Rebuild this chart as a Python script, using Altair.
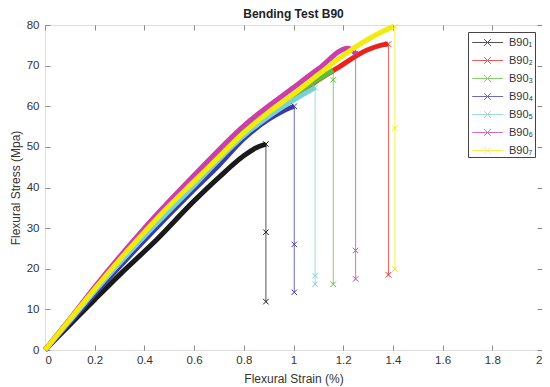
import altair as alt
import pandas as pd

# ---- data ----
series_names = ["B90₁", "B90₂", "B90₃", "B90₄", "B90₅", "B90₆", "B90₇"]
series_colors = ["#1a1a1a", "#e8231f", "#5cbf3c", "#3a3aa8", "#78d2d2", "#cc3fa8", "#f2ea10"]

strain_1 = [0, 0.1, 0.2, 0.3, 0.45, 0.6, 0.7, 0.8, 0.85, 0.889]
stress_1 = [0, 6.2, 12.4, 18.5, 27.2, 36.7, 42.5, 47.8, 49.8, 50.7]
strain_2 = [0, 0.1, 0.2, 0.4, 0.6, 0.8, 1.0, 1.1, 1.174, 1.294, 1.35, 1.38]
stress_2 = [0, 7.2, 14.5, 28.5, 41.0, 52.8, 62.0, 66.5, 69.3, 73.8, 75.0, 75.3]
strain_3 = [0, 0.1, 0.2, 0.4, 0.6, 0.8, 1.0, 1.1, 1.16]
stress_3 = [0, 7.6, 15.3, 29.5, 42.0, 53.8, 62.8, 66.6, 68.9]
strain_4 = [0, 0.1, 0.2, 0.4, 0.6, 0.7, 0.8, 0.9, 0.95, 1.003]
stress_4 = [0, 6.8, 13.8, 27.0, 39.5, 45.5, 52.0, 56.8, 58.6, 60.0]
strain_5 = [0, 0.1, 0.2, 0.4, 0.6, 0.8, 0.9, 1.0, 1.087]
stress_5 = [0, 7.2, 14.5, 28.0, 40.5, 52.8, 57.5, 61.5, 64.6]
strain_6 = [0, 0.1, 0.2, 0.4, 0.6, 0.8, 1.0, 1.1, 1.22, 1.25]
stress_6 = [0, 7.6, 15.5, 30.0, 43.0, 55.2, 64.6, 69.2, 74.3, 73.0]
strain_7 = [0, 0.1, 0.2, 0.3, 0.4, 0.5, 0.6, 0.7, 0.8, 0.9, 1.0, 1.1, 1.2, 1.3, 1.4]
stress_7 = [0, 7.5, 15.0, 22.2, 29.0, 35.5, 41.5, 47.5, 53.5, 58.5, 63.0, 67.8, 72.5, 76.5, 79.6]

# fracture drops: strain of the vertical drop, top and bottom stress, and marker stresses
drop_strain = [0.889, 1.382, 1.16, 1.003, 1.087, 1.25, 1.408]
drop_top = [50.7, 75.3, 68.9, 60.0, 64.6, 73.0, 79.6]
drop_bottom = [11.9, 18.5, 16.2, 14.2, 16.2, 17.5, 19.9]
drop_markers = [[50.7, 29.0, 11.9], [75.3, 18.5], [66.5, 16.2], [60.0, 26.0, 14.2],
                [64.6, 18.3, 16.2], [73.0, 24.5, 17.5], [79.6, 54.6, 19.9]]

x_ticks = [0, 0.2, 0.4, 0.6, 0.8, 1, 1.2, 1.4, 1.6, 1.8, 2]
y_ticks = [0, 10, 20, 30, 40, 50, 60, 70, 80]

strains = [strain_1, strain_2, strain_3, strain_4, strain_5, strain_6, strain_7]
stresses = [stress_1, stress_2, stress_3, stress_4, stress_5, stress_6, stress_7]

curve_rows, drop_rows, marker_rows = [], [], []
for i, name in enumerate(series_names):
    for sx, sy in zip(strains[i], stresses[i]):
        curve_rows.append({"series": name, "strain": sx, "stress": sy})
    drop_rows.append({"series": name, "strain": drop_strain[i], "stress": drop_top[i], "k": 0})
    drop_rows.append({"series": name, "strain": drop_strain[i], "stress": drop_bottom[i], "k": 1})
    for m in drop_markers[i]:
        marker_rows.append({"series": name, "strain": drop_strain[i], "stress": m})

curves = pd.DataFrame(curve_rows)
drops = pd.DataFrame(drop_rows)
markers = pd.DataFrame(marker_rows)

FONT = "Liberation Sans"
AX_COL = "#8a8a8a"
LAB_COL = "#333333"

xscale = alt.Scale(domain=[0, 2], nice=False, zero=False)
yscale = alt.Scale(domain=[0, 80], nice=False, zero=False)
cscale = alt.Scale(domain=series_names, range=series_colors)

x_main = alt.Axis(values=x_ticks, format="~g", ticks=False, tickSize=0, domain=False, grid=False,
                  labelPadding=4, labelFontSize=11.5, labelColor=LAB_COL, labelFont=FONT,
                  title="Flexural Strain (%)", titleFontSize=12, titleFontWeight="normal",
                  titleColor=LAB_COL, titleFont=FONT, titlePadding=8, orient="bottom")
y_main = alt.Axis(values=y_ticks, ticks=False, tickSize=0, domain=False, grid=False,
                  labelPadding=6, labelFontSize=11.5, labelColor=LAB_COL, labelFont=FONT,
                  title="Flexural Stress (Mpa)", titleFontSize=12, titleFontWeight="normal",
                  titleColor=LAB_COL, titleFont=FONT, titlePadding=4, orient="left")


def tick_axis(vals, orient):
    return alt.Axis(values=vals, ticks=True, tickSize=5, tickColor=AX_COL, tickWidth=1,
                    labels=False, domain=False, grid=False, title=None, offset=-5, orient=orient)


sym_path = "M-0.7,0H2.74M0.62,-0.38L1.38,0.38M0.62,0.38L1.38,-0.38"
legend = alt.Legend(title=None, orient="none", legendX=423, legendY=7,
                    symbolType=sym_path, symbolSize=324, symbolStrokeWidth=1,
                    labelFontSize=11, labelFont=FONT, labelColor=LAB_COL, labelOffset=21,
                    rowPadding=3, padding=1, strokeColor="#444444", fillColor="white",
                    cornerRadius=0)

drop_layer = alt.Chart(drops).mark_line(strokeWidth=1, opacity=0.75).encode(
    x=alt.X("strain:Q", scale=xscale, axis=x_main),
    y=alt.Y("stress:Q", scale=yscale, axis=y_main),
    color=alt.Color("series:N", scale=cscale, legend=legend),
    order="k:Q",
)

curve_layer = alt.Chart(curves).mark_line(strokeWidth=5, interpolate="monotone").encode(
    x=alt.X("strain:Q", scale=xscale, axis=tick_axis(x_ticks, "bottom")),
    y=alt.Y("stress:Q", scale=yscale, axis=tick_axis(y_ticks, "left")),
    color=alt.Color("series:N", scale=cscale, legend=None),
)

marker_layer = alt.Chart(markers).mark_point(
    shape="M-1,-1L1,1M-1,1L1,-1", size=30, strokeWidth=1, filled=False, opacity=1
).encode(
    x=alt.X("strain:Q", scale=xscale, axis=tick_axis(x_ticks, "top")),
    y=alt.Y("stress:Q", scale=yscale, axis=tick_axis(y_ticks, "right")),
    color=alt.Color("series:N", scale=cscale, legend=None),
)

chart = alt.layer(drop_layer, curve_layer, marker_layer).resolve_axis(
    x="independent", y="independent"
).properties(
    width=497, height=325,
    title=alt.TitleParams("Bending Test B90", fontSize=12, fontWeight="bold", font=FONT,
                          color="#222222", anchor="middle", offset=6, dy=10),
    autosize=alt.AutoSizeParams(type="none"),
    padding={"left": 37, "top": 17, "right": 0, "bottom": 37},
).configure_view(stroke=AX_COL, strokeWidth=1).configure(background="white")

chart.save("out.html", embed_options={"renderer": "svg", "actions": False})
